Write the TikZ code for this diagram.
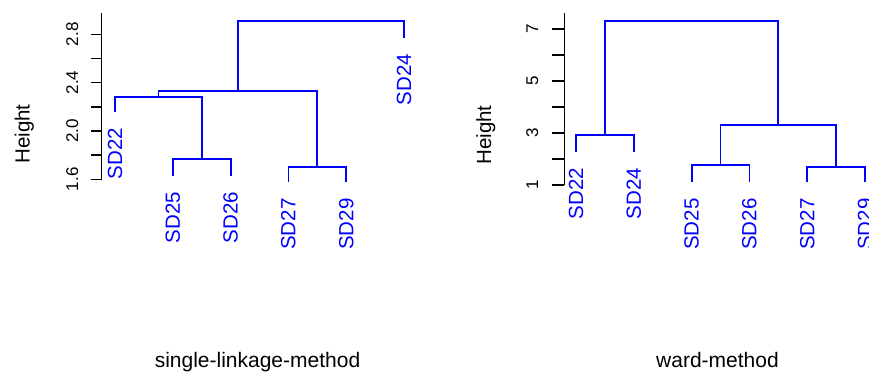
\documentclass[tikz,border=0pt]{standalone}
\usepackage{fontspec}
\setmainfont{Liberation Sans}

\begin{document}
\begin{tikzpicture}[x=1pt, y=-1pt]
	\tikzset{link/.style={draw=blue, line width=1.8pt},
		leaf/.style={text=blue, rotate=90, anchor=east, inner sep=0pt, font=\fontsize{20.5}{24}\selectfont},
		ticklab/.style={rotate=90, anchor=base, inner sep=0pt, font=\fontsize{17}{20}\selectfont},
		ylab/.style={rotate=90, anchor=base, inner sep=0pt, font=\fontsize{20.5}{24}\selectfont},
		title/.style={anchor=base, inner sep=0pt, font=\fontsize{21}{25}\selectfont},
		axisline/.style={draw=black, line width=1.5pt}}
	\useasboundingbox (0,0) rectangle (869,376);

	% single linkage
	\draw[axisline] (101.7,179.3) -- (101.7,13);
	\foreach \i in {0,...,6}
		\draw[axisline] (101.7,179.3-\i*24.17) -- (90.7,179.3-\i*24.17);
	\foreach \i/\lab in {0/1.6, 2/2.0, 4/2.4, 6/2.8}
		\node[ticklab] (sl\i) at (78,179.3-\i*24.17) {\lab};
	\node[ylab] (sh) at (29.5,134) {Height};

	\coordinate (a22) at (115,111.7);
	\coordinate (a25) at (172.8,175.7);
	\coordinate (a26) at (230.6,175.7);
	\coordinate (a27) at (288.4,182.3);
	\coordinate (a29) at (346.2,182.3);
	\coordinate (a24) at (404,37.7);
	\coordinate (k1) at (201.7,159);
	\coordinate (k2) at (158.4,97.3);
	\coordinate (k3) at (317.3,166.7);
	\coordinate (k4) at (237.8,90.7);
	\coordinate (k5) at (320.9,20.7);

	\draw[link] (a25) |- (k1) -| (a26);
	\draw[link] (a27) |- (k3) -| (a29);
	\draw[link] (a22) |- (k2) -| (k1);
	\draw[link] (k2) |- (k4) -| (k3);
	\draw[link] (k4) |- (k5) -| (a24);

	\foreach \n in {22,25,26,27,29,24}
		\node[leaf] (la\n) at ([yshift=-16pt]a\n) {SD\n};

	\node[title] (st) at (257.5,367) {single-linkage-method};

	% ward
	\draw[axisline] (564.3,185) -- (564.3,12.7);
	\foreach \i in {0,...,6}
		\draw[axisline] (564.3,185-\i*26) -- (551.7,185-\i*26);
	\foreach \i/\lab in {0/1, 2/3, 4/5, 6/7}
		\node[ticklab] (wl\i) at (538,185-\i*26) {\lab};
	\node[ylab] (wh) at (491,135) {Height};

	\coordinate (b22) at (576,151.7);
	\coordinate (b24) at (633.8,151.7);
	\coordinate (b25) at (691.6,182.3);
	\coordinate (b26) at (749.4,182.3);
	\coordinate (b27) at (807.2,182.3);
	\coordinate (b29) at (865,182.3);
	\coordinate (r1) at (604.9,135);
	\coordinate (r2) at (720.5,165);
	\coordinate (r3) at (836.1,166.7);
	\coordinate (r4) at (778.3,125);
	\coordinate (r5) at (691.6,20.7);

	\draw[link] (b22) |- (r1) -| (b24);
	\draw[link] (b25) |- (r2) -| (b26);
	\draw[link] (b27) |- (r3) -| (b29);
	\draw[link] (r2) |- (r4) -| (r3);
	\draw[link] (r1) |- (r5) -| (r4);

	\foreach \n in {22,24,25,26,27,29}
		\node[leaf] (lb\n) at ([yshift=-16pt]b\n) {SD\n};

	\node[title] (wt) at (717.5,367) {ward-method};
\end{tikzpicture}
\end{document}
